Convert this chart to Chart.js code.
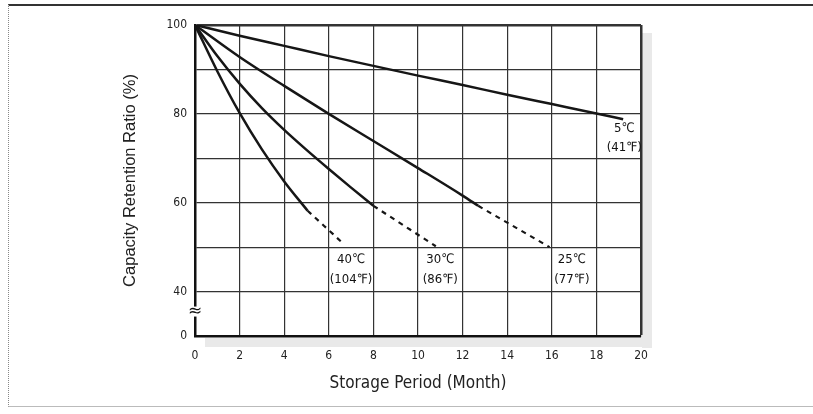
<!DOCTYPE html>
<html>
<head>
<meta charset="utf-8">
<script src="https://cdn.jsdelivr.net/npm/chart.js@4"></script>
<style>
  html, body { margin: 0; padding: 0; background: #fff; }
  #wrap { position: relative; width: 813px; height: 414px; }
  #frame { position: absolute; left: 8px; top: 4px; width: 805px; height: 403px;
           border-top: 2px solid #333; border-left: 1px dotted #888; border-bottom: 1px solid #bbb; box-sizing: border-box; }
  canvas { position: absolute; left: 0; top: 0; }
</style>
</head>
<body>
<div id="wrap">
  <div id="frame"></div>
  <canvas id="myChart" width="813" height="414"></canvas>
</div>
<script>
// storage month vs capacity retention (%), axis is broken below 40 so 30 on the scale = "0"
const months5 = [0, 2, 4, 6, 8, 10, 12, 14, 16, 18, 19.2];
const cap5 = [100, 97.6, 95.3, 93.0, 90.8, 88.6, 86.5, 84.3, 82.2, 80.1, 78.8];

const months25 = [0, 2, 4, 6, 8, 10, 12, 12.7];
const cap25 = [100, 92.8, 86.3, 80, 73.9, 67.8, 61.6, 59.3];
const months25Dash = [12.7, 15.9];
const cap25Dash = [59.3, 50];

const months30 = [0, 1, 2, 3, 4, 5, 6, 7, 8];
const cap30 = [100, 93, 86.8, 81.3, 76.4, 71.9, 67.6, 63.4, 59.3];
const months30Dash = [8, 10.8];
const cap30Dash = [59.3, 50.2];

const months40 = [0, 1, 2, 3, 4, 5.05];
const cap40 = [100, 89.6, 80.2, 72, 64.8, 58.2];
const months40Dash = [5.05, 6.65];
const cap40Dash = [58.2, 50.8];

const yTickLabels = { 100: '100', 80: '80', 60: '60', 40: '40', 30: '0' };

const curveLabels = [
    { x: 19.25, y: 76.6, text: '5℃' },
    { x: 19.25, y: 72.3, text: '(41℉)' },
    { x: 7.0, y: 47.1, text: '40℃' },
    { x: 7.0, y: 42.8, text: '(104℉)' },
    { x: 11.0, y: 47.1, text: '30℃' },
    { x: 11.0, y: 42.8, text: '(86℉)' },
    { x: 16.9, y: 47.1, text: '25℃' },
    { x: 16.9, y: 42.8, text: '(77℉)' }
];

function pts(xs, ys) {
    return xs.map((x, i) => ({ x: x, y: ys[i] }));
}

function curve(xs, ys, dashed) {
    return {
        data: pts(xs, ys),
        borderColor: '#161616',
        borderWidth: dashed ? 2.2 : 2.5,
        borderDash: dashed ? [5, 5] : [],
        pointRadius: 0,
        cubicInterpolationMode: 'monotone',
        fill: false
    };
}

const narrow = '"Liberation Sans Narrow", "DejaVu Sans Condensed", sans-serif';

const extras = {
    id: 'extras',
    beforeDraw(chart) {
        const a = chart.chartArea, c = chart.ctx;
        c.save();
        c.fillStyle = '#e9e9e9';
        c.fillRect(a.right + 1, a.top + 8, 10, a.bottom - a.top + 4);
        c.fillRect(a.left + 10, a.bottom + 2, a.right - a.left + 1, 9);
        c.restore();
    },
    afterDraw(chart) {
        const c = chart.ctx, xs = chart.scales.x, ys = chart.scales.y;
        c.save();
        c.fillStyle = '#111';
        c.font = '13px ' + narrow;
        c.textAlign = 'center';
        c.textBaseline = 'middle';
        curveLabels.forEach(l => {
            c.fillText(l.text, xs.getPixelForValue(l.x), ys.getPixelForValue(l.y));
        });
        // axis break mark
        const bx = xs.getPixelForValue(0), by = ys.getPixelForValue(35.5);
        c.fillStyle = '#fff';
        c.fillRect(bx - 3, by - 5, 6, 10);
        c.fillStyle = '#111';
        c.font = '17px "DejaVu Sans", sans-serif';
        c.fillText('≈', bx, by);
        c.restore();
    }
};

const config = {
    type: 'line',
    data: {
        datasets: [
            curve(months5, cap5, false),
            curve(months25, cap25, false),
            curve(months25Dash, cap25Dash, true),
            curve(months30, cap30, false),
            curve(months30Dash, cap30Dash, true),
            curve(months40, cap40, false),
            curve(months40Dash, cap40Dash, true)
        ]
    },
    options: {
        responsive: false,
        animation: false,
        layout: { padding: { left: 121, right: 172, top: 25, bottom: 20 } },
        plugins: { legend: { display: false }, tooltip: { enabled: false } },
        scales: {
            x: {
                type: 'linear',
                min: 0,
                max: 20,
                afterFit: s => { s.height = 58; },
                ticks: { stepSize: 2, padding: 13, color: '#222', font: { family: narrow, size: 12 } },
                grid: {
                    color: '#333',
                    drawTicks: false,
                    lineWidth: ctx => (ctx.tick && ctx.tick.value === 20 ? 2.5 : 1.2)
                },
                border: { color: '#111', width: 2.5 },
                title: {
                    display: true,
                    text: 'Storage Period (Month)',
                    color: '#222',
                    font: { family: narrow, size: 17 },
                    padding: 0
                }
            },
            y: {
                min: 30,
                max: 100,
                afterFit: s => { s.width = 74; },
                ticks: {
                    stepSize: 10,
                    padding: 8,
                    color: '#222',
                    font: { family: narrow, size: 12 },
                    callback: v => yTickLabels[v] || ''
                },
                grid: {
                    color: '#333',
                    drawTicks: false,
                    lineWidth: ctx => (ctx.tick && ctx.tick.value === 100 ? 2.5 : 1.2)
                },
                border: { color: '#111', width: 2.5 },
                title: {
                    display: true,
                    text: 'Capacity Retention Ratio (%)',
                    color: '#222',
                    font: { family: 'Liberation Sans, Arial, sans-serif', size: 16.5 },
                    padding: 0
                }
            }
        }
    },
    plugins: [extras]
};

const myChart = new Chart(document.getElementById('myChart'), config);
</script>
</body>
</html>
